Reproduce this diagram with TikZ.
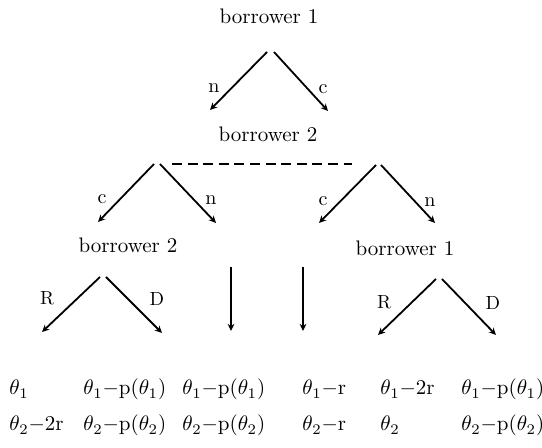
\documentclass[tikz,border=0pt]{standalone}
\usepackage{fix-cm}
\usetikzlibrary{arrows.meta}
\begin{document}
\begin{tikzpicture}[x=0.5pt,y=-0.5pt,
  font=\fontsize{10.5}{12.6}\selectfont,
  every node/.style={inner sep=0pt},
  arr/.style={line width=0.9pt,-{Stealth[length=3.6pt,width=3.4pt]}},
  lab/.style={font=\fontsize{10}{12}\selectfont},
  smalllab/.style={font=\fontsize{9.5}{11}\selectfont},
  leaf/.style={anchor=base west}]
\useasboundingbox (0,0) rectangle (542,448);
% player nodes
\node (top) at (269,16) {borrower 1};
\node (mid) at (268,134) {borrower 2};
\node (bl)  at (128,245) {borrower 2};
\node (br)  at (405,248) {borrower 1};
% apexes and ends
\coordinate (t1) at (267,52);  \coordinate (t2) at (274,52);
\coordinate (te1) at (210,110); \coordinate (te2) at (328,111);
\coordinate (a1) at (154,164); \coordinate (a2) at (160,164);
\coordinate (ae1) at (98,222); \coordinate (ae2) at (216,223);
\coordinate (b1) at (376,165); \coordinate (b2) at (381,165);
\coordinate (be1) at (319,223); \coordinate (be2) at (435,223);
\coordinate (d1) at (172,164); \coordinate (d2) at (352,164);
\coordinate (v1) at (231,267); \coordinate (ve1) at (231,331);
\coordinate (v2) at (303,267); \coordinate (ve2) at (303,331);
\coordinate (c1) at (100,277); \coordinate (c2) at (106,277);
\coordinate (ce1) at (42,332); \coordinate (ce2) at (162,333);
\coordinate (e1) at (436,279); \coordinate (e2) at (442,279);
\coordinate (ee1) at (378,335); \coordinate (ee2) at (496,335);
% connectors
\draw[arr] (t1) -- (te1);
\draw[arr] (t2) -- (te2);
\draw[arr] (a1) -- (ae1);
\draw[arr] (a2) -- (ae2);
\draw[arr] (b1) -- (be1);
\draw[arr] (b2) -- (be2);
\draw[line width=0.6pt,dash pattern=on 5pt off 2.8pt] (d1) -- (d2);
\draw[arr] (v1) -- (ve1);
\draw[arr] (v2) -- (ve2);
\draw[arr] (c1) -- (ce1);
\draw[arr] (c2) -- (ce2);
\draw[arr] (e1) -- (ee1);
\draw[arr] (e2) -- (ee2);
% labels
\node[lab] (ln1) at (214,88) {n};
\node[lab] (lc1) at (323,89) {c};
\node[lab] (lc2) at (102,199) {c};
\node[lab] (ln2) at (211,200) {n};
\node[lab] (lc3) at (323,201) {c};
\node[lab] (ln3) at (430,202) {n};
\node[smalllab] (lR1) at (47,298) {R};
\node[smalllab] (lD1) at (157,299) {D};
\node[smalllab] (lR2) at (384,302) {R};
\node[smalllab] (lD2) at (493,303) {D};
% leaves
\node[leaf] (p1a) at (9,395) {$\theta_1$};
\node[leaf] (p1b) at (9,431) {$\theta_2{-}2\mathrm{r}$};
\node[leaf] (p2a) at (83,395) {$\theta_1{-}\mathrm{p}(\theta_1)$};
\node[leaf] (p2b) at (83,431) {$\theta_2{-}\mathrm{p}(\theta_2)$};
\node[leaf] (p3a) at (182,395) {$\theta_1{-}\mathrm{p}(\theta_1)$};
\node[leaf] (p3b) at (182,431) {$\theta_2{-}\mathrm{p}(\theta_2)$};
\node[leaf] (p4a) at (302,395) {$\theta_1{-}\mathrm{r}$};
\node[leaf] (p4b) at (302,431) {$\theta_2{-}\mathrm{r}$};
\node[leaf] (p5a) at (380,395) {$\theta_1{-}2\mathrm{r}$};
\node[leaf] (p5b) at (380,431) {$\theta_2$};
\node[leaf] (p6a) at (461,395) {$\theta_1{-}\mathrm{p}(\theta_1)$};
\node[leaf] (p6b) at (461,431) {$\theta_2{-}\mathrm{p}(\theta_2)$};
\end{tikzpicture}
\end{document}
